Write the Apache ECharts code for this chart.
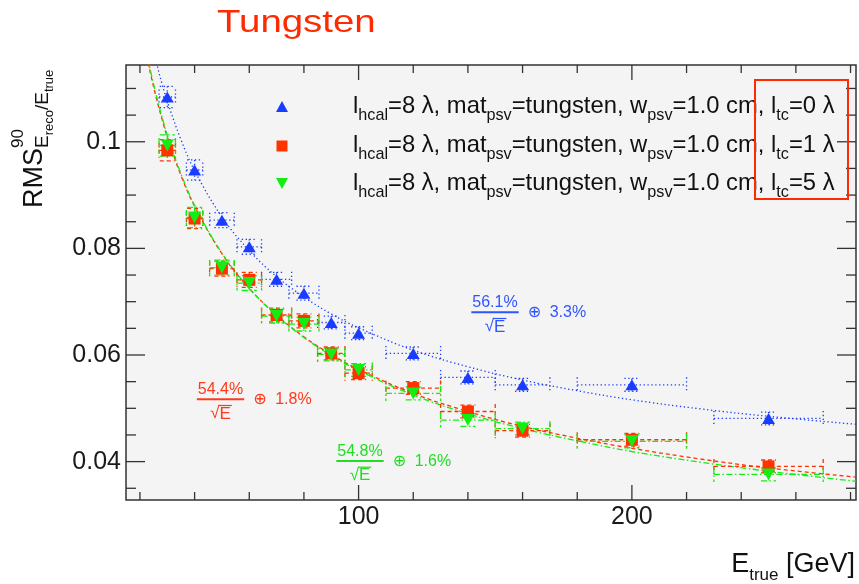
<!DOCTYPE html>
<html><head><meta charset="utf-8">
<script src="https://cdn.jsdelivr.net/npm/echarts@6/dist/echarts.min.js"></script>
<style>html,body{margin:0;padding:0;background:#fff}#c{width:859px;height:584px}</style>
</head><body><div id="c"></div>
<script>
// ---------- data ----------
const energies   = [30, 40, 50, 60, 70, 80, 90, 100, 120, 140, 160, 200, 250];
const energyErr  = [3, 3, 4.5, 4.5, 5.5, 5.5, 5, 5, 10, 10, 10, 20, 20];
const rmsTc0     = [0.1084, 0.0947, 0.0853, 0.0803, 0.0742, 0.0716, 0.0661, 0.0641, 0.0603, 0.0558, 0.0544, 0.0544, 0.0481];
const rmsTc1     = [0.0984, 0.0856, 0.0762, 0.0741, 0.0675, 0.0664, 0.0603, 0.0566, 0.0538, 0.0494, 0.0458, 0.0441, 0.0391];
const rmsTc5     = [0.0993, 0.0858, 0.0764, 0.0735, 0.0673, 0.0658, 0.0601, 0.0572, 0.0528, 0.0478, 0.0462, 0.0438, 0.0376];
const rmsErr     = [0.0020, 0.0019, 0.0014, 0.0014, 0.0013, 0.0013, 0.0012, 0.0012, 0.0012, 0.0012, 0.0012, 0.0012, 0.0012];
// fit curves
const fitE       = [22, 23, 24, 26, 28, 30, 35, 40, 50, 60, 70, 80, 90, 100, 120, 140, 160, 180, 200, 225, 250, 282];
const fitTc0     = [0.1241, 0.1215, 0.1192, 0.1149, 0.1110, 0.1076, 0.1004, 0.0946, 0.0859, 0.0796, 0.0747, 0.0709, 0.0677, 0.0651, 0.0609, 0.0578, 0.0553, 0.0533, 0.0516, 0.0499, 0.0485, 0.0470];
const fitTc1     = [0.1174, 0.1149, 0.1125, 0.1082, 0.1044, 0.1009, 0.0937, 0.0879, 0.0790, 0.0725, 0.0675, 0.0634, 0.0601, 0.0573, 0.0528, 0.0494, 0.0466, 0.0444, 0.0425, 0.0405, 0.0388, 0.0371];
const fitTc5     = [0.1179, 0.1154, 0.1130, 0.1087, 0.1048, 0.1013, 0.0940, 0.0881, 0.0791, 0.0725, 0.0674, 0.0633, 0.0599, 0.0571, 0.0525, 0.0490, 0.0462, 0.0439, 0.0419, 0.0399, 0.0382, 0.0363];
const xLabels    = [100, 200];
const xTicks     = [20, 40, 60, 80, 100, 120, 140, 160, 180, 200, 220, 240, 260, 280];
const yLabels    = [0.04, 0.06, 0.08, 0.1];
const yTicks     = [0.035, 0.04, 0.045, 0.05, 0.055, 0.06, 0.065, 0.07, 0.075, 0.08, 0.085, 0.09, 0.095, 0.1, 0.105, 0.11];
const fitTexts   = [['56.1%', '3.3%'], ['54.4%', '1.8%'], ['54.8%', '1.6%']];
const legendTc   = ['0', '1', '5'];

// ---------- layout constants ----------
const X_MIN = 14.9, X_MAX = 282, Y_MIN = 0.0328, Y_MAX = 0.1144;
const FONT = '"Liberation Sans", Arial, Helvetica, sans-serif';
const BLUE = '#1a3cff', RED = '#ff3300', GREEN = '#12ee12';
const BLUE_T = '#2f55ff', RED_T = '#ff3a1a', GREEN_T = '#22dd22';

const mctx = document.createElement('canvas').getContext('2d');
function tw(t, s) { mctx.font = s + 'px ' + FONT; return mctx.measureText(t).width; }

// lay out text pieces along a baseline (local coords, baseline at y=0, start at x=0)
function pieces(list, color) {
  let x = 0, mark = 0, end = 0; const els = [];
  list.forEach(p => {
    if (p.mark) mark = x;
    if (p.back) x = mark;
    const w = tw(p.t, p.s);
    els.push({ type: 'text', x: x, y: (p.dy || 0) - 0.35 * p.s,
      style: { text: p.t, font: p.s + 'px ' + FONT, fill: color, align: 'left', verticalAlign: 'middle' } });
    x += w + (p.gap || 0);
    end = Math.max(end, x);
  });
  return { els, width: end };
}

function fraction(cx, cy, num, tail, color) {
  const els = [];
  const s = 16;
  const nw = tw(num, s);
  els.push({ type: 'text', x: cx, y: cy, style: { text: num, font: s + 'px ' + FONT, fill: color, align: 'center', verticalAlign: 'middle' } });
  const half = nw / 2 + 1;
  els.push({ type: 'line', shape: { x1: cx - half, y1: cy + 9.3, x2: cx + half, y2: cy + 9.3 }, style: { stroke: color, lineWidth: 2 } });
  const sw = tw('\u221A', s + 1), ew = tw('E', s + 1);
  const sx = cx - (sw + ew) / 2;
  els.push({ type: 'text', x: sx, y: cy + 23.5, style: { text: '\u221A', font: (s + 1) + 'px ' + FONT, fill: color, align: 'left', verticalAlign: 'middle' } });
  els.push({ type: 'text', x: sx + sw, y: cy + 24, style: { text: 'E', font: (s + 1) + 'px ' + FONT, fill: color, align: 'left', verticalAlign: 'middle' } });
  els.push({ type: 'line', shape: { x1: sx + sw - 1, y1: cy + 15.5, x2: sx + sw + ew + 1, y2: cy + 15.5 }, style: { stroke: color, lineWidth: 1.2 } });
  els.push({ type: 'text', x: cx + half + 9, y: cy + 9.7, style: { text: '\u2295', font: s + 'px "DejaVu Sans", ' + FONT, fill: color, align: 'left', verticalAlign: 'middle' } });
  els.push({ type: 'text', x: cx + half + 31, y: cy + 9.7, style: { text: tail, font: s + 'px ' + FONT, fill: color, align: 'left', verticalAlign: 'middle' } });
  return els;
}

function legendRow(y, tc) {
  const m = 23.8, sb = 16.2;
  const r = pieces([
    { t: 'l', s: m }, { t: 'hcal', s: sb, dy: 7 }, { t: '=8 \u03BB, mat', s: m }, { t: 'psv', s: sb, dy: 7 },
    { t: '=tungsten, w', s: m }, { t: 'psv', s: sb, dy: 7 }, { t: '=1.0 cm, l', s: m }, { t: 'tc', s: sb, dy: 7 },
    { t: '=' + tc + ' \u03BB', s: m }
  ], '#111');
  return { type: 'group', x: 353, y: y + 8.3, children: r.els };
}

// ---------- series helpers ----------
function errSeries(vals, color, dash, z) {
  return {
    type: 'custom', coordinateSystem: 'cartesian2d', z: z, silent: true, clip: false,
    data: energies.map((e, i) => [e, vals[i], energyErr[i], rmsErr[i]]),
    renderItem(params, api) {
      const x = api.value(0), y = api.value(1), ex = api.value(2), ey = api.value(3);
      const c = api.coord([x, y]), l = api.coord([x - ex, y]), r = api.coord([x + ex, y]);
      const t = api.coord([x, y + ey]), b = api.coord([x, y - ey]);
      const cap = 7.5;
      const style = { stroke: color, lineWidth: 1.3, lineDash: dash, fill: null };
      const segs = [
        [l[0], c[1], r[0], c[1]], [l[0], c[1] - cap, l[0], c[1] + cap], [r[0], c[1] - cap, r[0], c[1] + cap],
        [c[0], t[1], c[0], b[1]], [c[0] - cap, t[1], c[0] + cap, t[1]], [c[0] - cap, b[1], c[0] + cap, b[1]]
      ];
      return { type: 'group', children: segs.map(p => ({ type: 'line', shape: { x1: p[0], y1: p[1], x2: p[2], y2: p[3] }, style })) };
    }
  };
}
function fitSeries(vals, color, dash) {
  return { type: 'line', data: fitE.map((e, i) => [e, vals[i]]), smooth: 0.4, showSymbol: false, silent: true, z: 2,
    lineStyle: { color: color, width: 1.3, type: dash } };
}
function markSeries(vals, color, symbol, size, rot, z) {
  return { type: 'scatter', data: energies.map((e, i) => [e, vals[i]]), symbol: symbol, symbolSize: size, symbolRotate: rot,
    itemStyle: { color: color, opacity: 1 }, z: z, silent: true };
}
const tickStyle = { stroke: '#333', lineWidth: 1.3 };
const xTickSeries = {
  type: 'custom', silent: true, clip: false, z: 10,
  data: xTicks.map(v => [v, Y_MIN, xLabels.includes(v) ? 1 : 0]),
  renderItem(params, api) {
    const v = api.value(0), L = api.value(2) ? 15 : 8;
    const b = api.coord([v, Y_MIN]), t = api.coord([v, Y_MAX]);
    return { type: 'group', children: [
      { type: 'line', shape: { x1: b[0], y1: b[1], x2: b[0], y2: b[1] - L }, style: tickStyle },
      { type: 'line', shape: { x1: t[0], y1: t[1], x2: t[0], y2: t[1] + L }, style: tickStyle } ] };
  }
};
const yTickSeries = {
  type: 'custom', silent: true, clip: false, z: 10,
  data: yTicks.map(v => [X_MIN, v, yLabels.some(m => Math.abs(m - v) < 1e-9) ? 1 : 0]),
  renderItem(params, api) {
    const v = api.value(1), L = api.value(2) ? 19 : 10;
    const l = api.coord([X_MIN, v]), r = api.coord([X_MAX, v]);
    return { type: 'group', children: [
      { type: 'line', shape: { x1: l[0], y1: l[1], x2: l[0] + L, y2: l[1] }, style: tickStyle },
      { type: 'line', shape: { x1: r[0], y1: r[1], x2: r[0] - L, y2: r[1] }, style: tickStyle } ] };
  }
};

// ---------- texts ----------
const yTitle = pieces([
  { t: 'RMS', s: 27 }, { t: '90', s: 17, dy: -20, mark: true }, { t: 'E', s: 19, dy: 5, back: true },
  { t: 'reco', s: 13, dy: 10 }, { t: '/E', s: 19, dy: 5 }, { t: 'true', s: 13, dy: 10 }
], '#111');
const xTitle = pieces([{ t: 'E', s: 27 }, { t: 'true', s: 17, dy: 7 }, { t: ' [GeV]', s: 27 }], '#111');

const graphics = [
  { type: 'text', x: 217, y: 23, scaleX: 1.2, style: { text: 'Tungsten', font: '32px ' + FONT, fill: '#ff2a00', align: 'left', verticalAlign: 'middle' } },
  { type: 'group', x: 44, y: 208, rotation: Math.PI / 2, children: yTitle.els },
  { type: 'group', x: 855 - xTitle.width, y: 574, children: xTitle.els },
  // legend markers
  { type: 'polygon', shape: { points: [[282, 101], [276, 112], [288, 112]] }, style: { fill: BLUE }, z: 20 },
  { type: 'rect', shape: { x: 276.5, y: 140.5, width: 11, height: 11 }, style: { fill: RED }, z: 20 },
  { type: 'polygon', shape: { points: [[276, 178], [288, 178], [282, 189]] }, style: { fill: GREEN }, z: 20 },
  legendRow(106, legendTc[0]), legendRow(145, legendTc[1]), legendRow(183, legendTc[2]),
  { type: 'rect', shape: { x: 755, y: 80, width: 93, height: 119 }, style: { fill: null, stroke: '#ff2a00', lineWidth: 2 }, z: 20 },
  ...fraction(495, 303, fitTexts[0][0], fitTexts[0][1], BLUE_T),
  ...fraction(220.5, 390, fitTexts[1][0], fitTexts[1][1], RED_T),
  ...fraction(360, 451.7, fitTexts[2][0], fitTexts[2][1], GREEN_T)
];

const chart = echarts.init(document.getElementById('c'), null, { renderer: 'canvas' });
chart.setOption({
  animation: false,
  backgroundColor: '#ffffff',
  grid: { left: 126, top: 65, right: 3, bottom: 84, show: true, backgroundColor: '#f4f4f4', borderColor: '#333', borderWidth: 1.5 },
  xAxis: { type: 'value', min: X_MIN, max: X_MAX, axisLine: { show: false }, axisTick: { show: false }, splitLine: { show: false },
    axisLabel: { customValues: xLabels, fontSize: 25, fontFamily: FONT, color: '#1a1a1a', margin: 5 } },
  yAxis: { type: 'value', min: Y_MIN, max: Y_MAX, axisLine: { show: false }, axisTick: { show: false }, splitLine: { show: false },
    axisLabel: { customValues: yLabels, formatter: v => String(+(+v).toFixed(3)), fontSize: 25, fontFamily: FONT, color: '#1a1a1a', margin: 5 } },
  series: [
    fitSeries(fitTc0, BLUE, [1.3, 2.6]),
    fitSeries(fitTc1, RED, [4, 3]),
    fitSeries(fitTc5, GREEN, [6, 2.5, 1.5, 2.5]),
    errSeries(rmsTc0, BLUE, [1.3, 2.6], 3),
    errSeries(rmsTc1, RED, [4, 3], 3),
    errSeries(rmsTc5, GREEN, [6, 2.5, 1.5, 2.5], 3),
    markSeries(rmsTc0, BLUE, 'triangle', [13, 11], 0, 4),
    markSeries(rmsTc1, RED, 'rect', [12, 12], 0, 5),
    markSeries(rmsTc5, GREEN, 'triangle', [13, 12], 180, 6),
    xTickSeries, yTickSeries
  ],
  graphic: graphics
});
</script>
</body></html>
